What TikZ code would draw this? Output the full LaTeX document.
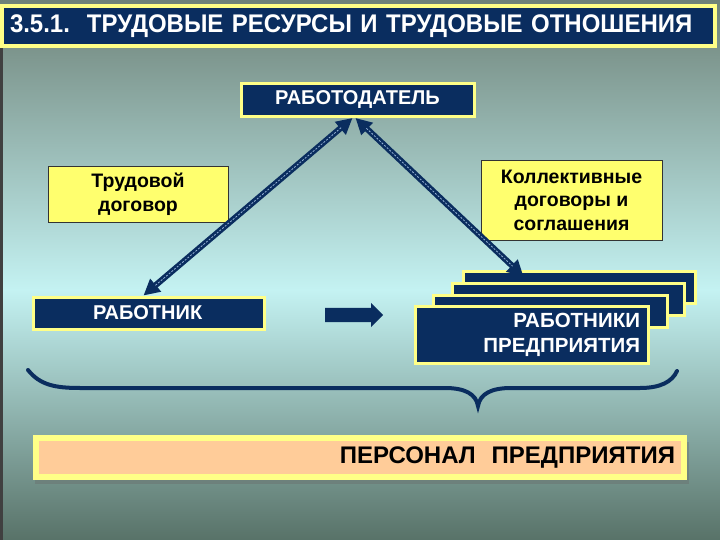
\documentclass[tikz,border=0pt]{standalone}
\usepackage{fontspec}
\setmainfont{Liberation Sans}
\newfontfamily\titlesans[FakeStretch=0.94]{Liberation Sans}
\usepackage{tikz}
\usetikzlibrary{arrows.meta, shapes.arrows}
\definecolor{navy}{RGB}{10,45,95}
\definecolor{linkhi}{RGB}{150,178,215}
\definecolor{yelline}{RGB}{255,255,135}
\definecolor{notefill}{RGB}{255,255,110}
\definecolor{peach}{RGB}{255,204,153}
\definecolor{bgtop}{RGB}{110,130,120}
\definecolor{bgmid}{RGB}{196,242,242}
\definecolor{bgbot}{RGB}{88,114,104}

\begin{document}
\begin{tikzpicture}[x=1pt, y=-1pt,
    darkbox/.style={draw=yelline, line width=3pt, fill=navy, text=white, font=\bfseries\fontsize{20}{24}\selectfont, inner sep=0pt},
    notebox/.style={draw=black!80, line width=0.8pt, fill=notefill, font=\bfseries\fontsize{19.5}{23.5}\selectfont, align=center, inner sep=0pt},
    link/.style={navy, line width=6pt, {Triangle[length=16pt,width=16pt]}-{Triangle[length=16pt,width=16pt]}, postaction={draw=linkhi, line width=0.8pt, arrows=-, dash pattern=on 2pt off 1.5pt, shorten <=15pt, shorten >=15pt}}]
    \useasboundingbox (0,0) rectangle (720,540);
    \shade[top color=bgtop, bottom color=bgmid] (0,0) rectangle (720,290);
    \shade[top color=bgmid, bottom color=bgbot] (0,290) rectangle (720,540);
    \fill[black!75] (0,48) rectangle (2.5,540);

    \node[draw=yelline, line width=4pt, fill=navy, text=white, minimum width=713pt, minimum height=40pt, text width=697pt, inner xsep=8pt, inner ysep=0pt, align=left, font=\titlesans\bfseries\fontsize{25.5}{28}\selectfont] (title) at (358.5,26) {3.5.1.\ \ ТРУДОВЫЕ РЕСУРСЫ И ТРУДОВЫЕ ОТНОШЕНИЯ};

    \node[darkbox, minimum width=233pt, minimum height=33pt] (emp) at (357.5,100) {РАБОТОДАТЕЛЬ};
    \node[darkbox, minimum width=231pt, minimum height=32pt, text width=211pt, inner xsep=10pt, align=left] (wrk) at (148.5,313) {\hspace*{50pt}РАБОТНИК};
    \node[notebox, minimum width=180pt, minimum height=56pt] (tdog) at (138,194.5) {Трудовой\\договор};
    \node[notebox, minimum width=181pt, minimum height=80pt] (kdog) at (571.5,200) {Коллективные\\договоры и\\соглашения};

    \node[darkbox, minimum width=232pt, minimum height=32pt] (stk3) at (579,287) {};
    \node[darkbox, minimum width=232pt, minimum height=32pt] (stk2) at (568,299) {};
    \node[darkbox, minimum width=234pt, minimum height=32pt] (stk1) at (550,311) {};
    \node[darkbox, minimum width=233pt, minimum height=57pt, text width=217pt, inner xsep=8pt, align=right, font=\bfseries\fontsize{20.5}{25}\selectfont] (staff) at (531.5,334.5) {РАБОТНИКИ\\ПРЕДПРИЯТИЯ};

    \node[single arrow, fill=navy, inner xsep=0pt, inner ysep=7pt, minimum height=58pt, single arrow head extend=5pt, anchor=tail] (shift) at (325,315) {};

    \draw[link] ([xshift=-5pt]emp.south) -- ([xshift=-5pt]wrk.north);
    \draw[link] ([xshift=-2pt]emp.south) -- ([xshift=62pt,yshift=-7pt]stk3.north west);

    \draw[navy, line width=4pt, line cap=round] (28,370) .. controls (40,385) and (55,388) .. (80,388) -- (445,388) .. controls (465,388) and (476,394) .. (478,406) .. controls (480,394) and (491,388) .. (511,388) -- (640,388) .. controls (660,388) and (672,382) .. (677,371);

    \fill[black!60, opacity=.35] (35,442) rectangle (689,484);
    \node[draw=yelline, line width=6pt, fill=peach, minimum width=648pt, minimum height=39pt, text width=630pt, inner xsep=9pt, inner ysep=0pt, align=right, font=\bfseries\fontsize{24}{28}\selectfont] (pers) at (360,457.5) {ПЕРСОНАЛ\ \ ПРЕДПРИЯТИЯ};
\end{tikzpicture}
\end{document}
